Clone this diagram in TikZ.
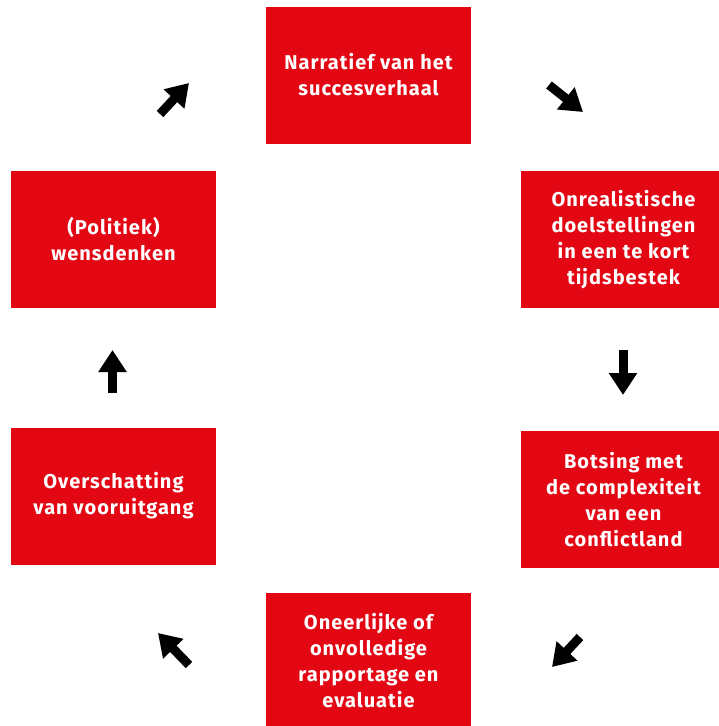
\documentclass[tikz,border=0pt]{standalone}
\usepackage{fontspec}
\setmainfont{Fira Sans}
\usetikzlibrary{positioning, calc, arrows.meta}
\definecolor{cyclusrood}{HTML}{E30613}

\begin{document}
\begin{tikzpicture}[x=1pt, y=-1pt, on grid,
    stap/.style={rectangle, fill=cyclusrood, text=white, inner sep=0pt, minimum width=205pt, minimum height=137pt, align=center, font=\fontsize{20}{26}\selectfont\bfseries\addfontfeatures{LetterSpace=5}},
    pijl/.style={line width=9pt, -{Triangle[width=27pt, length=22pt]}} ]
	\useasboundingbox (0,0) rectangle (718,726);
	\node[stap]	(narratief)						at (368.5,75)	{Narratief van het\\succesverhaal};
	\node[stap]	(doelen)	[below right=164.5pt and 255pt of narratief]	{Onrealistische\\doelstellingen\\in een te kort\\tijdsbestek};
	\node[stap]	(botsing)	[below=260pt of doelen]		{Botsing met\\de complexiteit\\van een\\conflictland};
	\node[stap]	(rapport)	[below left=161.5pt and 255pt of botsing]	{Oneerlijke of\\onvolledige\\rapportage en\\evaluatie};
	\node[stap]	(overschat)	[above left=165pt and 255pt of rapport]	{Overschatting\\van vooruitgang};
	\node[stap]	(wensdenken)	[above=256.5pt of overschat]	{(Politiek)\\wensdenken};
	
	%Pijlen tussen de stappen:
	\coordinate (p1a) at (549,85);	\coordinate (p1b) at (583,112);
	\coordinate (p2a) at (623,350);	\coordinate (p2b) at (623,395);
	\coordinate (p3a) at (580,637);	\coordinate (p3b) at (552,667);
	\coordinate (p4a) at (189,665);	\coordinate (p4b) at (158,633);
	\coordinate (p5a) at (112.5,393);	\coordinate (p5b) at (112.5,350);
	\coordinate (p6a) at (160,114);	\coordinate (p6b) at (189,83);
	\foreach \i in {1,...,6}
		\draw[pijl] (p\i a) -- (p\i b);
\end{tikzpicture}
\end{document}
